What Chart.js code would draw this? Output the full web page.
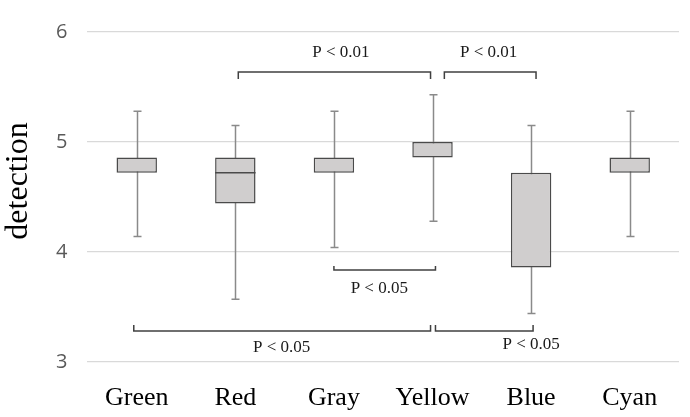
<!DOCTYPE html>
<html>
<head>
<meta charset="utf-8">
<script src="https://cdn.jsdelivr.net/npm/chart.js@4/dist/chart.umd.min.js"></script>
<style>
  html, body { margin: 0; padding: 0; background: #fff; }
  #wrap { width: 690px; height: 417px; }
</style>
</head>
<body>
<div id="wrap"><canvas id="myChart"></canvas></div>
<script>
const categories = ["Green", "Red", "Gray", "Yellow", "Blue", "Cyan"];
const mins    = [4.14, 3.57, 4.04, 4.28, 3.44, 4.14];
const q1s     = [4.72, 4.44, 4.72, 4.86, 3.86, 4.72];
const medians = [4.72, 4.72, 4.72, 4.86, 3.86, 4.72];
const q3s     = [4.86, 4.86, 4.86, 5.00, 4.72, 4.86];
const maxs    = [5.28, 5.15, 5.28, 5.43, 5.15, 5.28];
const yTicks  = [3, 4, 5, 6];

// significance brackets: from / to (category index), bar level, tick end level, label
const bracketFrom  = [1.03, 3.12, 2.0, -0.03, 3.03];
const bracketTo    = [2.98, 4.05, 3.03, 2.98, 4.02];
const bracketLevel = [5.636, 5.636, 3.836, 3.282, 3.282];
const bracketTick  = [5.573, 5.573, 3.873, 3.336, 3.336];
const bracketText  = ["P < 0.01", "P < 0.01", "P < 0.05", "P < 0.05", "P < 0.05"];
const bracketTextX = [2.07, 3.57, 2.46, 1.47, 4.0];
const bracketTextY = [5.81, 5.81, 3.67, 3.13, 3.155];

const boxPlugin = {
    id: "boxParts",
    beforeDatasetsDraw(chart) {
        const { ctx, scales: { x, y } } = chart;
        ctx.save();
        ctx.strokeStyle = "#8a8a8a";
        ctx.lineWidth = 1.5;
        categories.forEach((c, i) => {
            const px = Math.round(x.getPixelForValue(i)) + 0.5;
            const top = y.getPixelForValue(maxs[i]);
            const bot = y.getPixelForValue(mins[i]);
            ctx.beginPath();
            ctx.moveTo(px, top);
            ctx.lineTo(px, bot);
            ctx.moveTo(px - 4, top);
            ctx.lineTo(px + 4, top);
            ctx.moveTo(px - 4, bot);
            ctx.lineTo(px + 4, bot);
            ctx.stroke();
        });
        ctx.restore();
    },
    afterDatasetsDraw(chart) {
        const { ctx, scales: { x, y } } = chart;
        const meta = chart.getDatasetMeta(0);
        ctx.save();
        ctx.strokeStyle = "#4a4a4a";
        ctx.lineWidth = 1.5;
        categories.forEach((c, i) => {
            if (medians[i] === q1s[i] || medians[i] === q3s[i]) return;
            const bar = meta.data[i];
            const py = y.getPixelForValue(medians[i]);
            ctx.beginPath();
            ctx.moveTo(bar.x - bar.width / 2, py);
            ctx.lineTo(bar.x + bar.width / 2, py);
            ctx.stroke();
        });
        ctx.restore();
    },
    afterDraw(chart) {
        const { ctx, scales: { x, y }, chartArea } = chart;
        ctx.save();
        ctx.strokeStyle = "#404040";
        ctx.lineWidth = 1.5;
        ctx.fillStyle = "#1a1a1a";
        ctx.font = "17px 'Liberation Serif'";
        ctx.textAlign = "center";
        ctx.textBaseline = "middle";
        bracketText.forEach((t, i) => {
            const x1 = x.getPixelForValue(bracketFrom[i]);
            const x2 = x.getPixelForValue(bracketTo[i]);
            const yl = y.getPixelForValue(bracketLevel[i]);
            const yt = y.getPixelForValue(bracketTick[i]);
            ctx.beginPath();
            ctx.moveTo(x1, yt);
            ctx.lineTo(x1, yl);
            ctx.lineTo(x2, yl);
            ctx.lineTo(x2, yt);
            ctx.stroke();
            ctx.fillText(t, x.getPixelForValue(bracketTextX[i]), y.getPixelForValue(bracketTextY[i]));
        });

        // y axis title, sits a little above the middle as in the original
        ctx.translate(19, (chartArea.top + chartArea.bottom) / 2 - 16);
        ctx.rotate(-Math.PI / 2);
        ctx.fillStyle = "#000";
        ctx.font = "32px 'Liberation Serif'";
        ctx.fillText("detection", 0, 0);
        ctx.restore();
    }
};

const ctx = document.getElementById("myChart");
const myChart = new Chart(ctx, {
    type: "bar",
    data: {
        labels: categories,
        datasets: [
            {
                label: "detection",
                data: categories.map((c, i) => [q1s[i], q3s[i]]),
                backgroundColor: "#d0cece",
                borderColor: "#4a4a4a",
                borderWidth: 1.5,
                borderSkipped: false,
                barPercentage: 0.41,
                categoryPercentage: 1.0
            }
        ]
    },
    options: {
        responsive: true,
        maintainAspectRatio: false,
        animation: false,
        layout: { padding: { left: 36, right: 11, top: 25, bottom: 0 } },
        plugins: {
            legend: { display: false },
            tooltip: { enabled: false }
        },
        scales: {
            x: {
                afterFit(axis) {
                    axis.height = 55;
                },
                grid: { display: false },
                border: { display: false },
                ticks: {
                    color: "#000",
                    font: { family: "'Liberation Serif'", size: 26, lineHeight: 0.8 },
                    padding: 18
                }
            },
            y: {
                min: 3,
                max: 6,
                afterBuildTicks(axis) {
                    axis.ticks = yTicks.map(v => ({ value: v }));
                },
                border: { display: false },
                grid: { color: "#d9d9d9", lineWidth: 1.2, drawTicks: false },
                ticks: {
                    color: "#595959",
                    font: { family: "'Open Sans'", size: 20 },
                    padding: 20
                }
            }
        }
    },
    plugins: [boxPlugin]
});
</script>
</body>
</html>
